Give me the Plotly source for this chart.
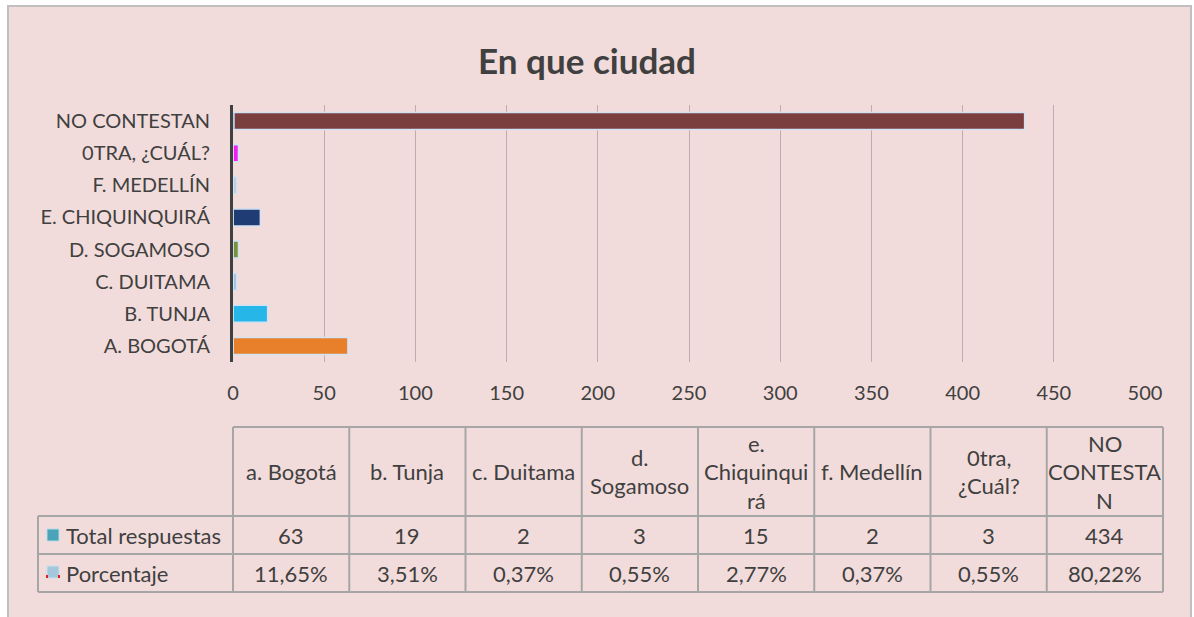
import plotly.graph_objects as go

# ---- data ----
categories = ["A. BOGOTÁ", "B. TUNJA", "C. DUITAMA", "D. SOGAMOSO",
              "E. CHIQUINQUIRÁ", "F. MEDELLÍN", "0TRA, ¿CUÁL?", "NO CONTESTAN"]
table_headers = ["a. Bogotá", "b. Tunja", "c. Duitama", "d.<br>Sogamoso",
                 "e.<br>Chiquinqui<br>rá", "f. Medellín", "0tra,<br>¿Cuál?",
                 "NO<br>CONTESTA<br>N"]
total_respuestas = [63, 19, 2, 3, 15, 2, 3, 434]
porcentaje = [11.65, 3.51, 0.37, 0.55, 2.77, 0.37, 0.55, 80.22]
bar_colors = ["#E87F2A", "#27B6E8", "#9DC3E6", "#76923C",
              "#203C74", "#B8CCE4", "#F21DF2", "#7A3E3E"]
series_names = ["Total respuestas", "Porcentaje"]
x_ticks = [0, 50, 100, 150, 200, 250, 300, 350, 400, 450, 500]
title = "En que ciudad"

W, H = 1194, 617
FONT = "Lato"
TXT = "#404040"
BG = "#F2DCDB"
GRID = "#BCAEAE"
TBL = "#A6A6A6"


def px(x):
    return x / W


def py(y):
    return 1 - y / H


fig = go.Figure()
fig.add_trace(go.Bar(
    y=categories, x=total_respuestas, orientation="h", name=series_names[0],
    marker=dict(color=bar_colors, line=dict(color="#D3E2F2", width=1.5)),
    showlegend=False,
))
fig.add_trace(go.Bar(
    y=categories, x=[p / 100 for p in porcentaje], orientation="h",
    name=series_names[1], marker=dict(color="#9DC3E6"), showlegend=False,
))

shapes = []
annotations = []

# outer chart area
shapes.append(dict(type="rect", xref="paper", yref="paper", layer="below",
                   x0=px(8), x1=px(1191), y0=py(625), y1=py(6),
                   fillcolor=BG, line=dict(color="#BFBFBF", width=2)))

# ---- data table ----
col_left = 233
col_w = (1163 - 233) / len(categories)
row_y = [427, 516, 554, 592]
leg_left = 38
line_style = dict(color=TBL, width=2)
shapes.append(dict(type="line", xref="paper", yref="paper", x0=px(col_left), x1=px(1163),
                   y0=py(row_y[0]), y1=py(row_y[0]), line=line_style))
for y in row_y[1:]:
    shapes.append(dict(type="line", xref="paper", yref="paper", x0=px(leg_left), x1=px(1163),
                       y0=py(y), y1=py(y), line=line_style))
shapes.append(dict(type="line", xref="paper", yref="paper", x0=px(leg_left), x1=px(leg_left),
                   y0=py(row_y[1]), y1=py(row_y[3]), line=line_style))
for i in range(len(categories) + 1):
    x = col_left + i * col_w
    shapes.append(dict(type="line", xref="paper", yref="paper", x0=px(x), x1=px(x),
                       y0=py(row_y[0]), y1=py(row_y[3]), line=line_style))

cell_font = dict(family=FONT, size=22, color=TXT)
line_h = 28.5
for i, hdr in enumerate(table_headers):
    cx = col_left + (i + 0.5) * col_w
    lines = hdr.split("<br>")
    cy0 = (row_y[0] + row_y[1]) / 2 - (len(lines) - 1) * line_h / 2
    for j, ln in enumerate(lines):
        annotations.append(dict(xref="paper", yref="paper", x=px(cx), y=py(cy0 + j * line_h),
                                text=ln, showarrow=False, font=cell_font,
                                xanchor="center", yanchor="middle"))
    annotations.append(dict(xref="paper", yref="paper", x=px(cx),
                            y=py((row_y[1] + row_y[2]) / 2),
                            text=str(total_respuestas[i]), showarrow=False, font=cell_font,
                            xanchor="center", yanchor="middle"))
    annotations.append(dict(xref="paper", yref="paper", x=px(cx),
                            y=py((row_y[2] + row_y[3]) / 2),
                            text=f"{porcentaje[i]:.2f}".replace(".", ",") + "%",
                            showarrow=False, font=cell_font,
                            xanchor="center", yanchor="middle"))

for k, name in enumerate(series_names):
    cy = (row_y[1 + k] + row_y[2 + k]) / 2
    annotations.append(dict(xref="paper", yref="paper", x=px(64), y=py(cy), text=name,
                            showarrow=False, font=cell_font, xanchor="left", yanchor="middle"))
shapes.append(dict(type="rect", xref="paper", yref="paper",
                   x0=px(47), x1=px(59), y0=py(541), y1=py(529),
                   fillcolor="#4BA3B8", line=dict(color="#B7DDE8", width=1)))
shapes.append(dict(type="rect", xref="paper", yref="paper",
                   x0=px(47), x1=px(59), y0=py(578), y1=py(566),
                   fillcolor="#A3C8DC", line=dict(color="#C9DFEC", width=1)))
shapes.append(dict(type="rect", xref="paper", yref="paper",
                   x0=px(46), x1=px(48), y0=py(578), y1=py(575),
                   fillcolor="#E02020", line=dict(width=0)))
shapes.append(dict(type="rect", xref="paper", yref="paper",
                   x0=px(58), x1=px(60), y0=py(578), y1=py(575),
                   fillcolor="#E02020", line=dict(width=0)))

fig.update_layout(
    width=W, height=H,
    margin=dict(l=0, r=0, t=0, b=0, autoexpand=False),
    paper_bgcolor="white",
    plot_bgcolor="rgba(0,0,0,0)",
    barmode="overlay",
    bargap=0.47,
    title=dict(text="<b>" + title + "</b>", x=px(587), xanchor="center",
               y=py(62), yanchor="middle",
               font=dict(family=FONT, size=35, color=TXT)),
    xaxis=dict(domain=[px(233), px(1145)], range=[0, 500], tickvals=x_ticks,
               showgrid=True, gridcolor=GRID, gridwidth=1.2, zeroline=False,
               showline=False, ticks="", ticklabelstandoff=17, automargin=False,
               tickfont=dict(family=FONT, size=20, color=TXT),
               layer="above traces"),
    yaxis=dict(domain=[py(362), py(105)], categoryorder="array",
               categoryarray=categories, showgrid=False, zeroline=False,
               showline=True, linecolor="#404040", linewidth=3, ticks="",
               ticklabelstandoff=16, automargin=False,
               tickfont=dict(family=FONT, size=20, color=TXT)),
    shapes=shapes,
    annotations=annotations,
)

fig.write_html("out.html", config={"displayModeBar": False},
               post_script="document.body.style.margin='0';document.body.style.overflow='hidden';")
